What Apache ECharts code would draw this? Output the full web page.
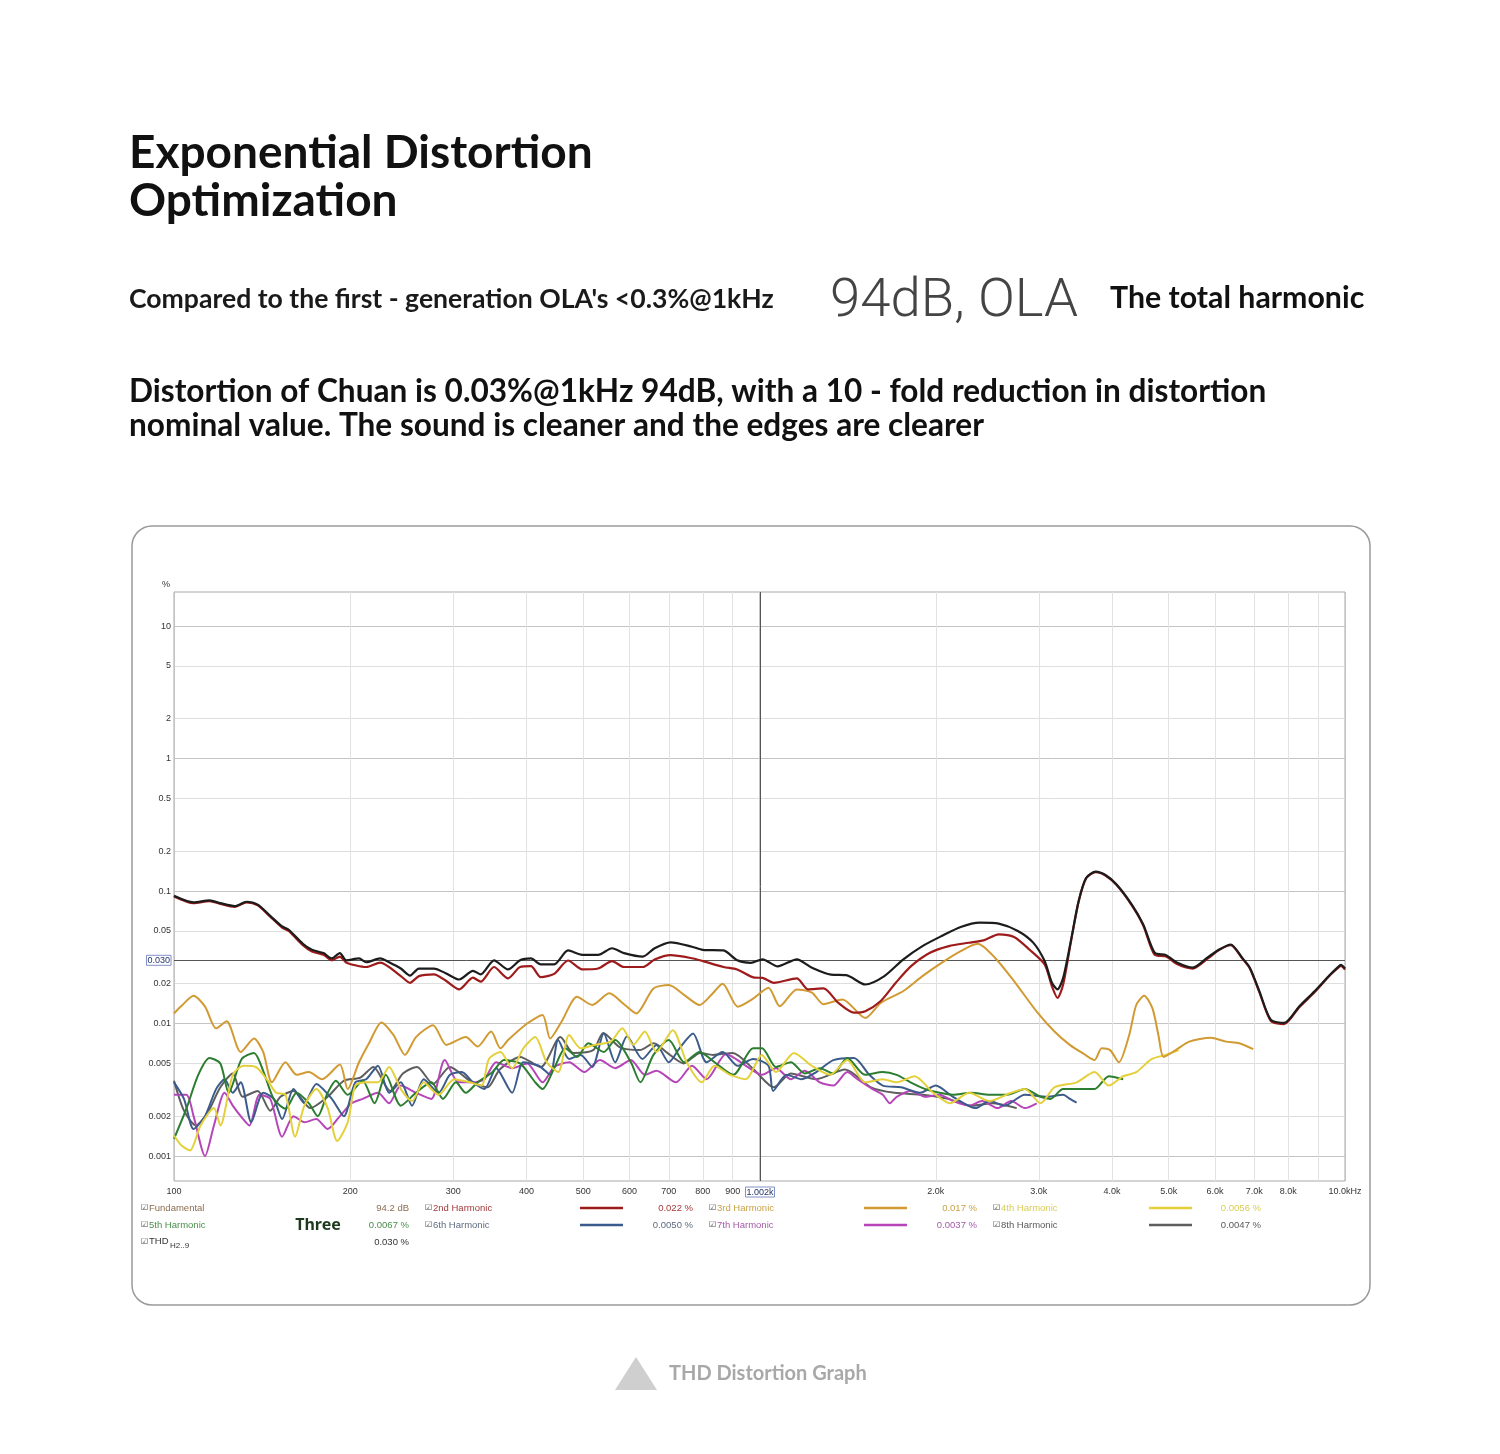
<!DOCTYPE html>
<html>
<head>
<meta charset="utf-8">
<script src="https://cdn.jsdelivr.net/npm/echarts@6/dist/echarts.min.js"></script>
<style>
html,body{margin:0;padding:0;background:#fff;}
#chart{width:1500px;height:1454px;}
</style>
</head>
<body>
<div id="chart"></div>
<script>
// ---------- texts ----------
const titleLines = ['Exponential Distortion', 'Optimization'];
const subtitleLeft = "Compared to the first - generation OLA's <0.3%@1kHz";
const subtitleMid = '94dB, OLA';
const subtitleRight = 'The total harmonic';
const paraLines = ['Distortion of Chuan is 0.03%@1kHz 94dB, with a 10 - fold reduction in distortion',
                   'nominal value. The sound is cleaner and the edges are clearer'];
const captionText = 'THD Distortion Graph';
const overlayWord = 'Three';

// ---------- axes ----------
const xGridValues = [100,200,300,400,500,600,700,800,900,1000,2000,3000,4000,5000,6000,7000,8000,9000,10000];
const xLabelValues = [100,200,300,400,500,600,700,800,900,1002,2000,3000,4000,5000,6000,7000,8000,10000];
const xLabelText = ['100','200','300','400','500','600','700','800','900','1.002k','2.0k','3.0k','4.0k','5.0k','6.0k','7.0k','8.0k','10.0kHz'];
const yGridValues = [0.001,0.002,0.005,0.01,0.02,0.05,0.1,0.2,0.5,1,2,5,10];
const yLabelValues = [0.001,0.002,0.005,0.01,0.02,0.03,0.05,0.1,0.2,0.5,1,2,5,10];
const yLabelText = ['0.001','0.002','0.005','0.01','0.02','0.030','0.05','0.1','0.2','0.5','1','2','5','10'];
const cursorFreq = 1002;
const cursorLevel = 0.030;

// ---------- legend readouts ----------
const fundamentalName = 'Fundamental';
const fundamentalReadout = '94.2 dB';
const thdName = 'THD';
const thdSub = 'H2..9';
const thdReadout = '0.030 %';
const harmonicNames = ['2nd Harmonic','3rd Harmonic','4th Harmonic','5th Harmonic','6th Harmonic','7th Harmonic','8th Harmonic'];
const harmonicReadout = ['0.022 %','0.017 %','0.0056 %','0.0067 %','0.0050 %','0.0037 %','0.0047 %'];

// ---------- series data: [frequency Hz, distortion %] ----------
const thd = [[100,0.092],[108,0.082],[115,0.085],[120,0.081],[127,0.077],[133,0.083],[139,0.079],[146,0.065],[153,0.054],[157,0.051],[166,0.040],[172,0.036],[180,0.034],[186,0.031],[192,0.034],[197,0.030],[207,0.031],[213,0.029],[225,0.031],[233,0.029],[244,0.026],[253,0.023],[262,0.026],[278,0.026],[291,0.024],[307,0.0215],[324,0.025],[334,0.0235],[352,0.030],[372,0.0256],[390,0.030],[407,0.031],[423,0.028],[446,0.028],[471,0.0356],[498,0.033],[530,0.033],[560,0.037],[587,0.034],[632,0.032],[662,0.037],[705,0.041],[767,0.038],[800,0.036],[868,0.0356],[916,0.030],[967,0.0287],[1012,0.0305],[1074,0.027],[1158,0.0305],[1229,0.0264],[1325,0.0234],[1407,0.0232],[1516,0.0197],[1634,0.0228],[1761,0.0305],[1898,0.0384],[2046,0.0457],[2206,0.0535],[2377,0.0577],[2562,0.0567],[2762,0.050],[2934,0.0408],[3069,0.0296],[3158,0.0203],[3228,0.0181],[3301,0.0221],[3402,0.0419],[3508,0.084],[3614,0.126],[3752,0.140],[3898,0.132],[4073,0.112],[4324,0.079],[4523,0.056],[4731,0.0342],[4948,0.0328],[5175,0.0287],[5495,0.0264],[5834,0.0317],[6100,0.0362],[6380,0.0395],[6673,0.0314],[6878,0.0264],[7142,0.0175],[7467,0.0107],[7870,0.0101],[8357,0.0135],[8872,0.0175],[9418,0.0232],[9706,0.0264],[9840,0.0277],[10000,0.026]];
const h2 = [[100,0.091],[108,0.081],[115,0.084],[120,0.080],[127,0.076],[133,0.082],[139,0.078],[146,0.064],[153,0.053],[157,0.050],[166,0.039],[172,0.035],[180,0.033],[186,0.030],[192,0.032],[197,0.0288],[213,0.0267],[225,0.0288],[244,0.0228],[253,0.0203],[262,0.0228],[278,0.0235],[291,0.0211],[307,0.0181],[324,0.0222],[334,0.0207],[352,0.0267],[372,0.0219],[390,0.0267],[407,0.0271],[423,0.0224],[446,0.0237],[471,0.0299],[498,0.0256],[530,0.026],[560,0.0296],[587,0.0267],[632,0.0267],[662,0.0304],[705,0.0328],[767,0.0311],[800,0.0296],[868,0.0267],[916,0.0256],[980,0.0222],[1012,0.0221],[1058,0.0203],[1158,0.0219],[1210,0.0181],[1286,0.0184],[1364,0.0143],[1450,0.0121],[1516,0.0124],[1611,0.0148],[1709,0.0203],[1815,0.0271],[1955,0.0342],[2106,0.0384],[2276,0.0407],[2414,0.0424],[2562,0.0471],[2721,0.045],[2890,0.0362],[3069,0.0279],[3158,0.0191],[3228,0.0156],[3301,0.0197],[3402,0.041],[3508,0.083],[3614,0.125],[3752,0.139],[3898,0.131],[4073,0.111],[4324,0.078],[4523,0.055],[4731,0.033],[4948,0.032],[5175,0.028],[5495,0.026],[5834,0.031],[6100,0.036],[6380,0.039],[6673,0.031],[6878,0.026],[7142,0.0172],[7467,0.0105],[7870,0.0099],[8357,0.0133],[8872,0.0172],[9418,0.023],[9706,0.026],[9840,0.0272],[10000,0.0255]];
const h3 = [[100,0.0119],[103,0.0136],[108,0.0162],[113,0.0134],[118,0.0092],[123,0.0104],[130,0.0061],[137,0.0077],[142,0.0061],[147,0.0036],[155,0.0051],[162,0.0041],[170,0.0043],[179,0.0038],[192,0.0049],[198,0.0032],[207,0.0051],[216,0.0073],[226,0.0102],[237,0.0082],[248,0.0058],[259,0.0079],[277,0.0097],[292,0.0069],[315,0.0079],[330,0.0067],[348,0.0087],[361,0.0065],[372,0.0075],[401,0.010],[426,0.0116],[439,0.0077],[459,0.0103],[488,0.0159],[518,0.0138],[554,0.0169],[589,0.0138],[616,0.0119],[659,0.0184],[700,0.0195],[744,0.0164],[790,0.0138],[827,0.0164],[865,0.020],[918,0.0134],[975,0.0154],[1036,0.0186],[1083,0.0135],[1158,0.0181],[1229,0.0171],[1286,0.014],[1386,0.0152],[1516,0.011],[1611,0.0143],[1761,0.0176],[1898,0.0228],[2046,0.0287],[2206,0.0352],[2358,0.040],[2524,0.0314],[2721,0.0209],[2975,0.0123],[3190,0.0087],[3388,0.0069],[3580,0.0059],[3735,0.0053],[3840,0.0065],[3970,0.0063],[4110,0.0051],[4280,0.0082],[4400,0.0138],[4540,0.0162],[4690,0.013],[4800,0.0082],[4900,0.0056],[5140,0.0063],[5420,0.0073],[5900,0.0078],[6260,0.0073],[6600,0.0071],[6970,0.0064]];
const h4 = [[100,0.00143],[103,0.0012],[106.5,0.0011],[111,0.0017],[117,0.0023],[120,0.0017],[126,0.0041],[131.5,0.0048],[138,0.0047],[144,0.0038],[149.5,0.003],[155,0.0029],[161,0.0014],[167,0.0024],[175,0.0032],[183,0.0023],[190,0.0013],[198,0.0018],[204,0.0034],[213,0.0036],[223,0.0036],[233,0.0047],[244,0.0032],[255,0.0026],[267,0.0036],[283,0.0029],[301,0.0038],[320,0.0036],[335,0.0034],[345,0.0054],[361,0.0061],[378,0.0046],[395,0.0065],[414,0.0079],[433,0.0051],[453,0.0043],[473,0.0082],[495,0.0065],[523,0.0069],[557,0.0073],[583,0.0092],[609,0.0069],[637,0.0087],[667,0.0061],[711,0.0089],[751,0.0051],[797,0.0036],[838,0.0048],[891,0.0041],[948,0.0038],[1009,0.0058],[1067,0.0043],[1145,0.006],[1228,0.0048],[1320,0.0041],[1412,0.0053],[1515,0.0036],[1624,0.0038],[1715,0.0036],[1840,0.004],[1980,0.003],[2115,0.0025],[2280,0.003],[2470,0.0026],[2690,0.003],[2840,0.0032],[3020,0.0025],[3190,0.0033],[3480,0.0036],[3735,0.0043],[3950,0.0034],[4180,0.004],[4400,0.0043],[4680,0.0054],[4940,0.0058],[5200,0.0063]];
const h5 = [[100,0.00135],[105,0.00228],[110,0.0041],[115,0.0055],[120,0.005],[124,0.003],[130.5,0.0054],[137,0.006],[142,0.0044],[148,0.0027],[155,0.00228],[162,0.003],[170,0.0025],[176,0.002],[183,0.003],[189,0.0037],[198,0.0029],[210,0.0037],[220,0.0025],[230,0.0041],[244,0.0024],[259,0.003],[275,0.0036],[288,0.0027],[303,0.0036],[315,0.003],[330,0.0036],[350,0.0043],[366,0.0053],[390,0.005],[414,0.0036],[426,0.0032],[446,0.0046],[466,0.0065],[488,0.0056],[510,0.0071],[542,0.0061],[567,0.0075],[603,0.0051],[626,0.0036],[659,0.0058],[700,0.0075],[744,0.0051],[790,0.0061],[838,0.0051],[902,0.0041],[975,0.0065],[1010,0.0065],[1067,0.0047],[1131,0.0051],[1195,0.0042],[1268,0.0046],[1337,0.0042],[1412,0.0055],[1515,0.0041],[1624,0.0043],[1715,0.0041],[1811,0.0036],[1921,0.0032],[2030,0.003],[2140,0.0029],[2300,0.003],[2470,0.0029],[2650,0.0029],[2840,0.0032],[3020,0.0028],[3140,0.0027],[3300,0.0032],[3580,0.0032],[3735,0.0032],[3950,0.004],[4180,0.0038]];
const h6 = [[100,0.0036],[104,0.0027],[108,0.0016],[113,0.002],[118,0.0032],[122,0.0038],[126,0.003],[130,0.0036],[135.5,0.0018],[142,0.003],[148,0.0027],[153,0.0019],[160,0.0032],[167,0.0025],[175,0.0035],[186,0.0027],[195,0.002],[204,0.0036],[213,0.0038],[223,0.0048],[233,0.003],[244,0.0036],[255,0.0024],[267,0.0038],[283,0.003],[296,0.0041],[310,0.0043],[324,0.0036],[339,0.0032],[355,0.0046],[378,0.003],[395,0.0051],[420,0.0048],[439,0.0041],[453,0.0075],[473,0.0054],[495,0.0058],[518,0.0047],[542,0.0084],[567,0.0051],[594,0.008],[631,0.0054],[667,0.0069],[700,0.0051],[730,0.0065],[770,0.0084],[812,0.0051],[865,0.0061],[918,0.0048],[975,0.0054],[1036,0.0048],[1055,0.0031],[1112,0.0041],[1180,0.0038],[1250,0.0043],[1337,0.0053],[1450,0.0055],[1540,0.0041],[1624,0.0034],[1745,0.0033],[1880,0.003],[2000,0.0034],[2140,0.0028],[2340,0.0023],[2470,0.0026],[2620,0.0024],[2840,0.0029],[3100,0.0028],[3300,0.0029],[3390,0.0027],[3480,0.00253]];
const h7 = [[100,0.0029],[105,0.0029],[108,0.002],[113,0.001],[117,0.0017],[122,0.003],[126,0.0024],[130,0.002],[134.5,0.0017],[140,0.0029],[146,0.0027],[153,0.0014],[160,0.002],[167,0.0018],[175,0.0019],[183,0.0016],[192,0.002],[201,0.0025],[210,0.0027],[223,0.003],[233,0.0025],[244,0.0034],[259,0.003],[275,0.0027],[290,0.0053],[306,0.0036],[324,0.0036],[339,0.0038],[355,0.0051],[378,0.0046],[401,0.005],[426,0.0036],[446,0.0047],[473,0.0051],[502,0.0043],[534,0.0053],[567,0.0046],[603,0.0053],[637,0.0041],[667,0.0044],[720,0.0036],[767,0.0048],[812,0.0038],[877,0.0059],[948,0.0048],[1010,0.0041],[1067,0.0046],[1131,0.0038],[1195,0.0044],[1268,0.0036],[1337,0.0034],[1412,0.0043],[1470,0.0038],[1560,0.0032],[1624,0.0029],[1670,0.0025],[1715,0.0028],[1811,0.0031],[1921,0.0028],[2030,0.0029],[2140,0.0026],[2280,0.0024],[2400,0.0026],[2550,0.0023],[2690,0.0026],[2840,0.0023],[2975,0.0025]];
const h8 = [[100,0.0037],[104,0.0022],[109,0.0017],[114,0.0021],[120,0.0033],[126,0.0042],[131,0.0028],[139,0.0031],[146,0.0022],[152,0.0028],[160,0.0031],[171,0.0023],[183,0.0028],[195,0.0037],[208,0.0039],[219,0.0047],[234,0.0031],[246,0.0042],[260,0.0047],[277,0.0035],[296,0.0047],[320,0.0037],[343,0.0033],[360,0.0045],[390,0.0056],[423,0.0047],[457,0.0079],[481,0.006],[520,0.0063],[541,0.0085],[578,0.0066],[625,0.0063],[660,0.0071],[696,0.006],[742,0.005],[792,0.006],[833,0.0058],[900,0.006],[978,0.0045],[1058,0.0033],[1131,0.0042],[1250,0.0038],[1400,0.0045],[1550,0.0033],[1700,0.003],[1900,0.0029],[2100,0.0027],[2300,0.0024],[2500,0.0025],[2750,0.0023]];

// ---------- styling ----------
const harmonicColors = ['#9e1b1b','#d19a33','#e3d03a','#2b7d2f','#3b5b8c','#b545b8','#5e5e5e'];
const harmonicTextColors = ['#a33a3a','#c9a24a','#d9cc55','#4a8f4a','#5d6b82','#a65aa8','#5a5a5a'];
const harmonicData = [h2,h3,h4,h5,h6,h7,h8];

function nearestText(v, vals, txt) {
  let best = 0, bd = Infinity;
  for (let i = 0; i < vals.length; i++) {
    const d = Math.abs(Math.log(v) - Math.log(vals[i]));
    if (d < bd) { bd = d; best = i; }
  }
  return txt[best];
}

const chart = echarts.init(document.getElementById('chart'), null, {renderer: 'canvas'});

const series = [];
for (let i = harmonicData.length - 1; i >= 0; i--) {
  series.push({
    name: harmonicNames[i], type: 'line', data: harmonicData[i],
    showSymbol: false, smooth: 0.25, silent: true,
    lineStyle: {color: harmonicColors[i], width: i === 0 ? 2.2 : 2},
    z: 3 + (harmonicData.length - i)
  });
}
series.push({
  name: thdName, type: 'line', data: thd, showSymbol: false, smooth: 0.25, silent: true,
  lineStyle: {color: '#1c1c1c', width: 2.2}, z: 20,
  markLine: {
    silent: true, symbol: 'none', label: {show: false},
    lineStyle: {color: '#555', width: 1, type: 'solid'},
    data: [{xAxis: cursorFreq}, {yAxis: cursorLevel}]
  }
});

// legend graphic
const legendFont = '9.5px "Liberation Sans", Arial, sans-serif';
const rowY = [1208, 1225, 1242];
const colNameX = [141, 425, 709, 993];
const colValX = [409, 693, 977, 1261];
const colLineX = [null, 580, 864, 1149];
const graphics = [];
function txt(text, x, y, font, fill, align, extra) {
  graphics.push(Object.assign({type: 'text', silent: true,
    style: {text: text, x: x, y: y, font: font, fill: fill, align: align || 'left', verticalAlign: 'middle'}}, extra || {}));
}
// cells: [row, col, label, value, lineColor, textColor]
const cells = [
  [0, 0, fundamentalName, fundamentalReadout, null, '#8c6d4f'],
  [0, 1, harmonicNames[0], harmonicReadout[0], harmonicColors[0], harmonicTextColors[0]],
  [0, 2, harmonicNames[1], harmonicReadout[1], harmonicColors[1], harmonicTextColors[1]],
  [0, 3, harmonicNames[2], harmonicReadout[2], harmonicColors[2], harmonicTextColors[2]],
  [1, 0, harmonicNames[3], harmonicReadout[3], null, harmonicTextColors[3]],
  [1, 1, harmonicNames[4], harmonicReadout[4], harmonicColors[4], harmonicTextColors[4]],
  [1, 2, harmonicNames[5], harmonicReadout[5], harmonicColors[5], harmonicTextColors[5]],
  [1, 3, harmonicNames[6], harmonicReadout[6], harmonicColors[6], harmonicTextColors[6]]
];
cells.forEach(c => {
  const y = rowY[c[0]];
  txt('\u2611', colNameX[c[1]], y, '8px "DejaVu Sans", sans-serif', '#444', 'left');
  txt(c[2], colNameX[c[1]] + 8, y, legendFont, c[5], 'left');
  txt(c[3], colValX[c[1]], y, legendFont, c[5], 'right');
  if (c[4]) {
    graphics.push({type: 'line', silent: true,
      shape: {x1: colLineX[c[1]], y1: y, x2: colLineX[c[1]] + 43, y2: y},
      style: {stroke: c[4], lineWidth: 2.5}});
  }
});
txt('\u2611', colNameX[0], rowY[2], '8px "DejaVu Sans", sans-serif', '#444', 'left');
txt(thdName, colNameX[0] + 8, rowY[2] - 1, legendFont, '#333', 'left');
txt(thdSub, colNameX[0] + 29, rowY[2] + 4, '8px "Liberation Sans", Arial, sans-serif', '#333', 'left');
txt(thdReadout, colValX[0], rowY[2], legendFont, '#333', 'right');
txt(overlayWord, 318, 1225, 'bold 16px "Noto Sans", "Open Sans", sans-serif', '#1e3a1e', 'center');

// page texts
txt(titleLines[0], 129, 153, 'bold 46px Lato, sans-serif', '#111', 'left');
txt(titleLines[1], 129, 201, 'bold 46px Lato, sans-serif', '#111', 'left');
txt(subtitleLeft, 129, 299, 'bold 26.6px Lato, sans-serif', '#1a1a1a', 'left');
txt(subtitleMid, 830, 302, '300 54.5px Roboto, "Noto Sans", sans-serif', '#444', 'left');
txt(subtitleRight, 1110, 298, 'bold 30.3px Lato, sans-serif', '#111', 'left');
txt(paraLines[0], 129, 392, 'bold 31.6px Lato, sans-serif', '#111', 'left');
txt(paraLines[1], 129, 426, 'bold 31.6px Lato, sans-serif', '#111', 'left');
txt(captionText, 669, 1374, 'bold 20px Lato, sans-serif', '#a8a8a8', 'left');
graphics.push({type: 'polygon', silent: true, shape: {points: [[615, 1390], [657, 1390], [636, 1357]]}, style: {fill: '#cfcfcf'}});
graphics.push({type: 'rect', silent: true, shape: {x: 132, y: 526, width: 1238, height: 779, r: 20},
  style: {fill: 'none', stroke: '#9a9a9a', lineWidth: 1.5}, z: -1});

const axisFont = {fontSize: 9, color: '#333', fontFamily: '"Liberation Sans", Arial, sans-serif'};
const boxRich = {box: {borderColor: '#8090c8', borderWidth: 1, padding: [1, 1, 0, 1], color: '#223366', fontSize: 9, fontFamily: '"Liberation Sans", Arial, sans-serif'}};

chart.setOption({
  animation: false,
  backgroundColor: '#fff',
  grid: {left: 174, right: 155, top: 592, bottom: 273, show: true, borderColor: '#a8a8a8', borderWidth: 1, containLabel: false},
  xAxis: {
    type: 'log', logBase: 10, min: 100, max: 10000,
    axisLine: {show: false},
    axisTick: {show: false, customValues: xGridValues},
    axisLabel: Object.assign({}, axisFont, {
      margin: 6, customValues: xLabelValues, rich: boxRich,
      formatter: v => { const t = nearestText(v, xLabelValues, xLabelText); return t === '1.002k' ? '{box|' + t + '}' : t; }
    }),
    splitLine: {show: true, lineStyle: {width: 1, color: ['#c4c4c4','#e2e2e2','#e2e2e2','#e2e2e2','#e2e2e2','#e2e2e2','#e2e2e2','#e2e2e2','#e2e2e2']}}
  },
  yAxis: {
    type: 'log', logBase: 10, min: 0.000648, max: 18.06,
    name: '%', nameLocation: 'end', nameGap: 3,
    nameTextStyle: {fontSize: 9, color: '#333', align: 'right', padding: [0, 4, 0, 0]},
    axisLine: {show: false},
    axisTick: {show: false, customValues: yGridValues},
    axisLabel: Object.assign({}, axisFont, {
      margin: 3, customValues: yLabelValues, rich: boxRich,
      formatter: v => { const t = nearestText(v, yLabelValues, yLabelText); return t === '0.030' ? '{box|' + t + '}' : t; }
    }),
    splitLine: {show: true, lineStyle: {width: 1, color: ['#c4c4c4','#dedede','#dedede']}}
  },
  graphic: graphics,
  series: series
});
</script>
</body>
</html>
